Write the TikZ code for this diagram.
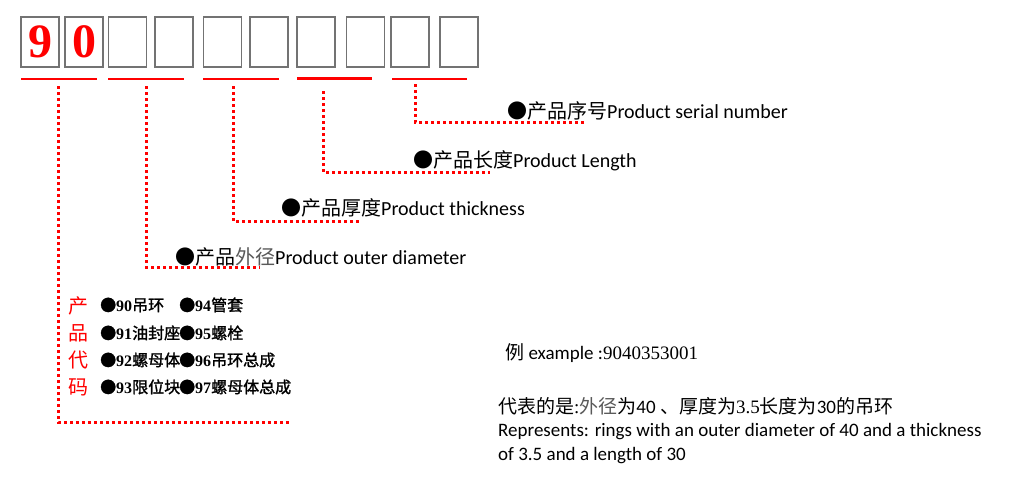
\documentclass[tikz,border=0pt]{standalone}
\usepackage{fontspec}
\setmainfont{Carlito}
\newfontfamily\cjk{Noto Sans CJK SC}
\newfontfamily\cjkb[FakeBold=1.5]{Noto Sans CJK SC}
\newfontfamily\tms{Liberation Serif}
\begin{document}
\begin{tikzpicture}[x=1pt,y=-1pt,
  digitbox/.style={draw=black!55, line width=1.2pt, minimum width=38pt, minimum height=50pt, inner sep=0pt,
    text=red, font=\tms\bfseries\fontsize{48}{48}\selectfont},
  redline/.style={red, line width=2.5pt},
  dotline/.style={red, line width=3pt, dash pattern=on 3pt off 3pt},
  lab/.style={anchor=base west, inner sep=0pt, font=\fontsize{20}{24}\selectfont},
  item/.style={anchor=base west, inner sep=0pt, font=\fontsize{16}{18}\selectfont},
  note/.style={anchor=base west, inner sep=0pt, font=\fontsize{19}{24}\selectfont}]
\useasboundingbox[fill=white] (0,0) rectangle (1024,496);

% digit boxes
\node[digitbox] (d1) at (40,42) {\raisebox{-3pt}{9}};
\node[digitbox] (d2) at (84,42) {\raisebox{-3pt}{0}};
\node[digitbox] (d3) at (127.5,42) {};
\node[digitbox] (d4) at (174,42) {};
\node[digitbox] (d5) at (222.5,42) {};
\node[digitbox] (d6) at (269,42) {};
\node[digitbox] (d7) at (316,42) {};
\node[digitbox] (d8) at (365.5,42) {};
\node[digitbox] (d9) at (410,42) {};
\node[digitbox] (d10) at (459,42) {};

% red underlines
\coordinate (u1a) at (21,79);  \coordinate (u1b) at (97,79);
\coordinate (u2a) at (108,79); \coordinate (u2b) at (184,79);
\coordinate (u3a) at (203,79); \coordinate (u3b) at (279,79);
\coordinate (u4a) at (297,78.5); \coordinate (u4b) at (372,78.5);
\coordinate (u5a) at (392,79); \coordinate (u5b) at (467,79);
\draw[redline] (u1a) -- (u1b);
\draw[redline] (u2a) -- (u2b);
\draw[redline] (u3a) -- (u3b);
\draw[redline] (u4a) -- (u4b);
\draw[redline] (u5a) -- (u5b);

% labels
\node[lab] (l5) at (507,118) {{\cjk ●产品序号}Product serial number};
\node[lab] (l4) at (413,167) {{\cjk ●产品长度}Product Length};
\node[lab] (l3) at (281,215) {{\cjk ●产品厚度}Product thickness};
\node[lab] (l2) at (175,264) {{\cjk ●产品}{\color{black!65}\cjk 外径}Product outer diameter};

% connector coordinates
\coordinate (t1) at (58,86);   \coordinate (e1) at (290,422);
\coordinate (t2) at (146,86);  \coordinate (e2) at (260,267);
\coordinate (t3) at (233,86);  \coordinate (e3) at (360,221);
\coordinate (t4) at (323,91);  \coordinate (e4) at (490,172);
\coordinate (t5) at (415,84);  \coordinate (e5) at (585,122);
\draw[dotline] (t1) |- (e1);
\draw[dotline] (t2) |- (e2);
\draw[dotline] (t3) |- (e3);
\draw[dotline] (t4) |- (e4);
\draw[dotline] (t5) |- (e5);

% product code block
\node[red, align=center, inner sep=0pt, font=\cjk\fontsize{20}{27}\selectfont] (code) at (78,346) {产\\品\\代\\码};
\node[item] (i90) at (100,311) {{\cjkb ●}{\tms\bfseries 90}{\cjkb 吊环}};
\node[item] (i91) at (100,339) {{\cjkb ●}{\tms\bfseries 91}{\cjkb 油封座}};
\node[item] (i92) at (100,366) {{\cjkb ●}{\tms\bfseries 92}{\cjkb 螺母体}};
\node[item] (i93) at (100,393) {{\cjkb ●}{\tms\bfseries 93}{\cjkb 限位块}};
\node[item] (i94) at (179,311) {{\cjkb ●}{\tms\bfseries 94}{\cjkb 管套}};
\node[item] (i95) at (179,339) {{\cjkb ●}{\tms\bfseries 95}{\cjkb 螺栓}};
\node[item] (i96) at (179,366) {{\cjkb ●}{\tms\bfseries 96}{\cjkb 吊环总成}};
\node[item] (i97) at (179,393) {{\cjkb ●}{\tms\bfseries 97}{\cjkb 螺母体总成}};

% example
\node[note] (ex) at (505,359) {{\cjk 例} example :{\tms 9040353001}};
\node[note] (cn) at (498,413) {{\cjk 代表的是}{\tms :}{\color{black!65}\cjk 外径}{\cjk 为}40 {\cjk 、厚度为}{\tms 3.5}{\cjk 长度为}30{\cjk 的吊环}};
\node[note] (en1) at (498,436) {Represents: rings with an outer diameter of 40 and a thickness};
\node[note] (en2) at (498,460) {of 3.5 and a length of 30};
\end{tikzpicture}
\end{document}
